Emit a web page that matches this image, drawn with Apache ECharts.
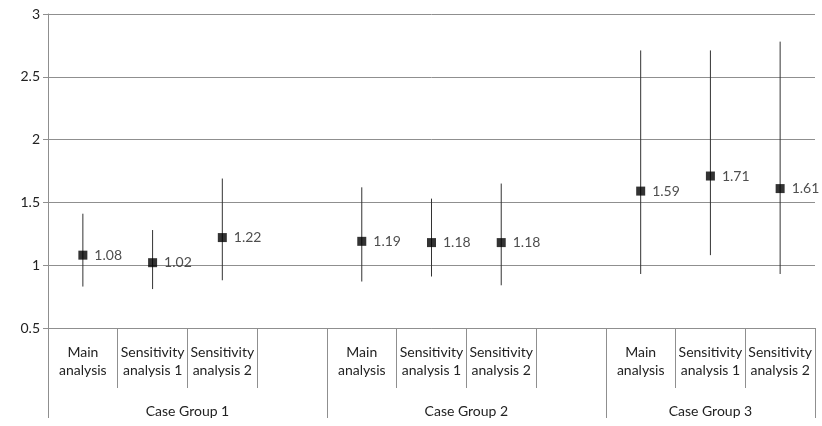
<!DOCTYPE html>
<html>
<head>
<meta charset="utf-8">
<script src="https://cdn.jsdelivr.net/npm/echarts@6/dist/echarts.min.js"></script>
<style>
  html, body { margin: 0; padding: 0; background: #fff; }
  #chart { width: 822px; height: 426px; }
</style>
</head>
<body>
<div id="chart"></div>
<script>
// data
var groups = ['Case Group 1', 'Case Group 2', 'Case Group 3'];
var analyses = ['Main\nanalysis', 'Sensitivity\nanalysis 1', 'Sensitivity\nanalysis 2'];
var estimates = [1.08, 1.02, 1.22, 1.19, 1.18, 1.18, 1.59, 1.71, 1.61];
var lower = [0.83, 0.81, 0.88, 0.87, 0.91, 0.84, 0.93, 1.08, 0.93];
var upper = [1.41, 1.28, 1.69, 1.62, 1.53, 1.65, 2.71, 2.71, 2.78];
var yTicks = [0.5, 1, 1.5, 2, 2.5, 3];

// build category slots: each group's analyses, then an empty spacer slot
var categories = [];
var pointIndex = [];
var groupEdges = [0];
var groupCenters = [];
groups.forEach(function (g, gi) {
    var start = categories.length;
    analyses.forEach(function (a) {
        pointIndex.push(categories.length);
        categories.push(a);
    });
    if (gi < groups.length - 1) categories.push('');
    groupEdges.push(categories.length);
    groupCenters.push((start + categories.length) / 2);
});
var slotEdges = categories.map(function (c, i) { return i; }).concat([categories.length]);

var pointData = estimates.map(function (v, i) { return [pointIndex[i], v]; });
var barData = estimates.map(function (v, i) { return [pointIndex[i], lower[i], upper[i]]; });

var font = 'Lato, "Open Sans", sans-serif';
var gray = '#8f8f8f';

var chart = echarts.init(document.getElementById('chart'));
chart.setOption({
    animation: false,
    grid: { left: 48, right: 7, top: 14, bottom: 98 },
    xAxis: [{
        type: 'category',
        data: categories,
        boundaryGap: true,
        axisLine: { lineStyle: { color: gray } },
        axisTick: { show: false },
        axisLabel: {
            interval: 0, margin: 15, color: '#222', fontFamily: font,
            fontSize: 14, lineHeight: 18, align: 'center'
        },
        splitLine: { show: false }
    }, {
        // short separators between every slot
        type: 'value',
        min: 0,
        max: categories.length,
        position: 'bottom',
        axisLine: { show: false },
        splitLine: { show: false },
        axisTick: { show: true, length: 60, customValues: slotEdges, lineStyle: { color: gray } },
        axisLabel: { show: false }
    }, {
        // long separators and group names
        type: 'value',
        min: 0,
        max: categories.length,
        position: 'bottom',
        axisLine: { show: false },
        splitLine: { show: false },
        axisTick: { show: true, length: 90, customValues: groupEdges, lineStyle: { color: gray } },
        axisLabel: {
            customValues: groupCenters, margin: 76, color: '#222', fontFamily: font, fontSize: 14,
            formatter: function (v) {
                var i = groupCenters.indexOf(v);
                return i >= 0 ? groups[i] : '';
            }
        }
    }],
    yAxis: {
        type: 'value',
        min: yTicks[0],
        max: yTicks[yTicks.length - 1],
        interval: 0.5,
        axisLine: { show: true, lineStyle: { color: gray } },
        axisTick: { show: true, length: 5, lineStyle: { color: gray } },
        axisLabel: { color: '#222', fontFamily: font, fontSize: 14, margin: 8 },
        splitLine: { lineStyle: { color: gray, width: 1 } }
    },
    series: [{
        type: 'custom',
        xAxisIndex: 0,
        data: barData,
        renderItem: function (params, api) {
            var x = api.value(0);
            var lo = api.coord([x, api.value(1)]);
            var hi = api.coord([x, api.value(2)]);
            return {
                type: 'line',
                shape: { x1: lo[0], y1: lo[1], x2: hi[0], y2: hi[1] },
                style: { stroke: '#333', lineWidth: 1 }
            };
        },
        z: 2
    }, {
        type: 'scatter',
        xAxisIndex: 0,
        data: pointData,
        symbol: 'rect',
        symbolSize: 9,
        itemStyle: { color: '#000' },
        label: {
            show: true, position: 'right', distance: 7, color: '#222',
            fontFamily: font, fontSize: 14,
            formatter: function (p) { return p.value[1].toFixed(2); }
        },
        z: 3
    }]
});
</script>
</body>
</html>
